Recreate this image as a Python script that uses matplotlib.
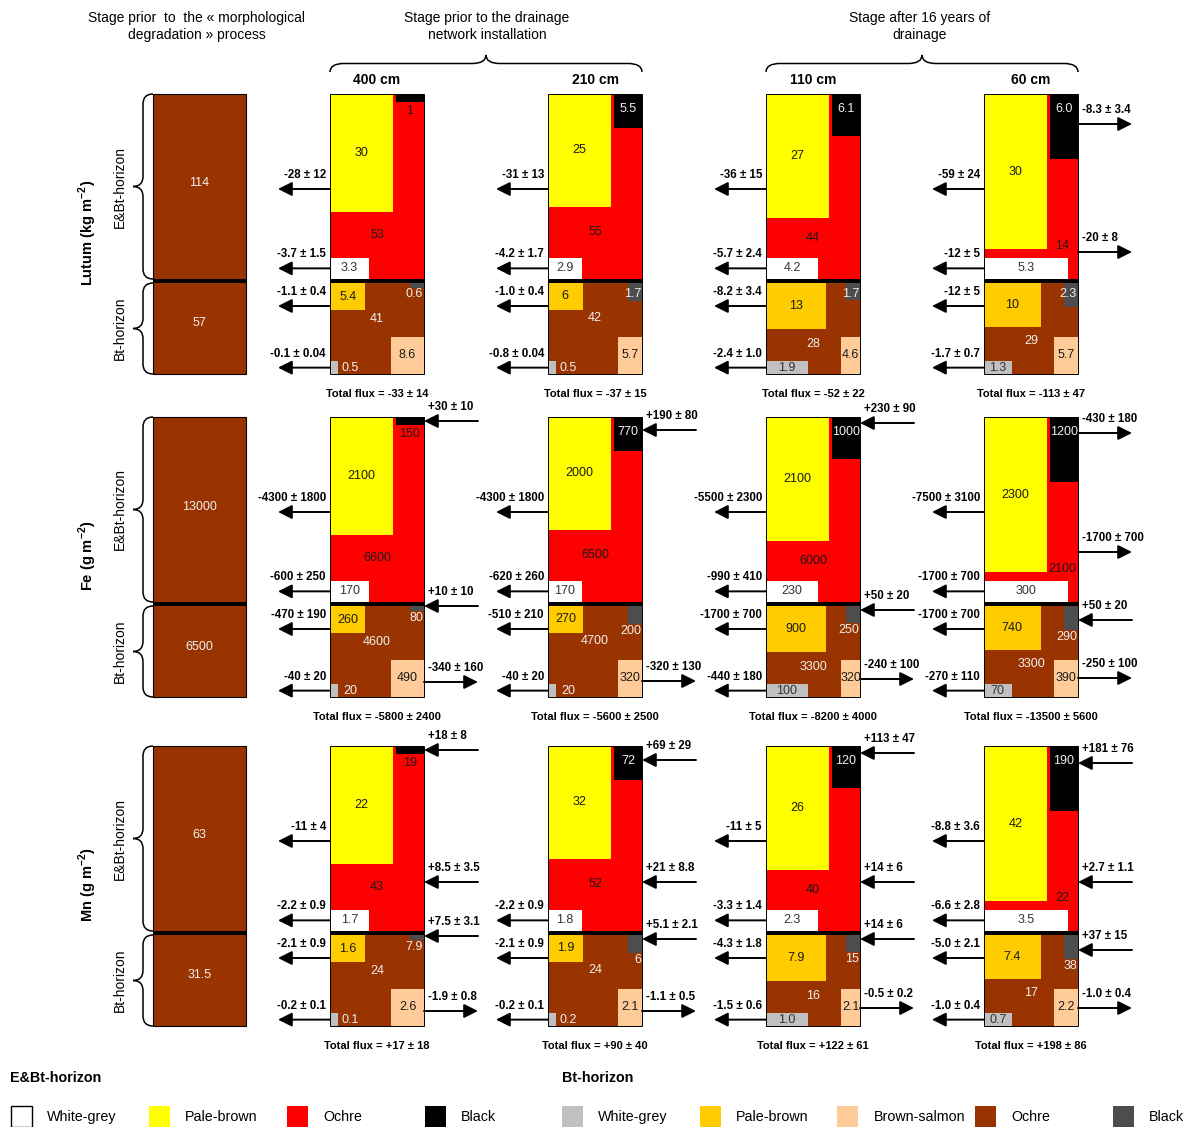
import matplotlib.pyplot as plt
from matplotlib.patches import Rectangle, PathPatch
from matplotlib.path import Path

plt.rcParams['font.family'] = ['Liberation Sans', 'DejaVu Sans']
plt.rcParams['mathtext.fontset'] = 'custom'
plt.rcParams['mathtext.rm'] = 'Liberation Sans'
plt.rcParams['mathtext.bf'] = 'Liberation Sans:bold'

# profils (distance au drain)
profiles = ['400 cm', '210 cm', '110 cm', '60 cm']
row_titles = [r'Lutum (kg m$^{\mathbf{-2}}$)', r'Fe (g m$^{\mathbf{-2}}$)', r'Mn (g m$^{\mathbf{-2}}$)']

# stock avant degradation : E&Bt, Bt
initial_E = ['114', '13000', '63']
initial_Bt = ['57', '6500', '31.5']

# E&Bt : white-grey, pale-brown, ochre, black
lutum_E = [['3.3', '30', '53', '1'], ['2.9', '25', '55', '5.5'],
           ['4.2', '27', '44', '6.1'], ['5.3', '30', '14', '6.0']]
fe_E = [['170', '2100', '6600', '150'], ['170', '2000', '6500', '770'],
        ['230', '2100', '6000', '1000'], ['300', '2300', '2100', '1200']]
mn_E = [['1.7', '22', '43', '19'], ['1.8', '32', '52', '72'],
        ['2.3', '26', '40', '120'], ['3.5', '42', '22', '190']]

# Bt : white-grey, pale-brown, brown-salmon, ochre, black
lutum_Bt = [['0.5', '5.4', '8.6', '41', '0.6'], ['0.5', '6', '5.7', '42', '1.7'],
            ['1.9', '13', '4.6', '28', '1.7'], ['1.3', '10', '5.7', '29', '2.3']]
fe_Bt = [['20', '260', '490', '4600', '80'], ['20', '270', '320', '4700', '200'],
         ['100', '900', '320', '3300', '250'], ['70', '740', '390', '3300', '290']]
mn_Bt = [['0.1', '1.6', '2.6', '24', '7.9'], ['0.2', '1.9', '2.1', '24', '6'],
         ['1.0', '7.9', '2.1', '16', '15'], ['0.7', '7.4', '2.2', '17', '38']]

# flux cote gauche : pale-brown E&Bt, white-grey E&Bt, pale-brown Bt, white-grey Bt
lutum_left = [['-28 ± 12', '-3.7 ± 1.5', '-1.1 ± 0.4', '-0.1 ± 0.04'],
              ['-31 ± 13', '-4.2 ± 1.7', '-1.0 ± 0.4', '-0.8 ± 0.04'],
              ['-36 ± 15', '-5.7 ± 2.4', '-8.2 ± 3.4', '-2.4 ± 1.0'],
              ['-59 ± 24', '-12 ± 5', '-12 ± 5', '-1.7 ± 0.7']]
fe_left = [['-4300 ± 1800', '-600 ± 250', '-470 ± 190', '-40 ± 20'],
           ['-4300 ± 1800', '-620 ± 260', '-510 ± 210', '-40 ± 20'],
           ['-5500 ± 2300', '-990 ± 410', '-1700 ± 700', '-440 ± 180'],
           ['-7500 ± 3100', '-1700 ± 700', '-1700 ± 700', '-270 ± 110']]
mn_left = [['-11 ± 4', '-2.2 ± 0.9', '-2.1 ± 0.9', '-0.2 ± 0.1'],
           [None, '-2.2 ± 0.9', '-2.1 ± 0.9', '-0.2 ± 0.1'],
           ['-11 ± 5', '-3.3 ± 1.4', '-4.3 ± 1.8', '-1.5 ± 0.6'],
           ['-8.8 ± 3.6', '-6.6 ± 2.8', '-5.0 ± 2.1', '-1.0 ± 0.4']]

# flux cote droit (+ = entree, - = sortie)
lutum_right = [[], [], [], ['-8.3 ± 3.4', '-20 ± 8']]
fe_right = [['+30 ± 10', '+10 ± 10', '-340 ± 160'],
            ['+190 ± 80', '-320 ± 130'],
            ['+230 ± 90', '+50 ± 20', '-240 ± 100'],
            ['-430 ± 180', '-1700 ± 700', '+50 ± 20', '-250 ± 100']]
mn_right = [['+18 ± 8', '+8.5 ± 3.5', '+7.5 ± 3.1', '-1.9 ± 0.8'],
            ['+69 ± 29', '+21 ± 8.8', '+5.1 ± 2.1', '-1.1 ± 0.5'],
            ['+113 ± 47', '+14 ± 6', '+14 ± 6', '-0.5 ± 0.2'],
            ['+181 ± 76', '+2.7 ± 1.1', '+37 ± 15', '-1.0 ± 0.4']]

lutum_total = ['-33 ± 14', '-37 ± 15', '-52 ± 22', '-113 ± 47']
fe_total = ['-5800 ± 2400', '-5600 ± 2500', '-8200 ± 4000', '-13500 ± 5600']
mn_total = ['+17 ± 18', '+90 ± 40', '+122 ± 61', '+198 ± 86']

# part de surface de chaque couleur dans l'horizon (%)
surf_white = [4.8, 4.1, 6.4, 10.3]
surf_paleb = [42.7, 40.9, 44.9, 56.2]
surf_black = [1.3, 5.5, 6.8, 10.6]
surf_bt_white = [1.2, 1.2, 6.2, 4.1]
surf_bt_paleb = [11.2, 10.8, 31.9, 28.8]
surf_bt_salmon = [14.3, 10.4, 8.2, 10.4]
surf_bt_black = [0.8, 2.9, 2.8, 3.9]

E_vals = [lutum_E, fe_E, mn_E]
Bt_vals = [lutum_Bt, fe_Bt, mn_Bt]
left_vals = [lutum_left, fe_left, mn_left]
right_vals = [lutum_right, fe_right, mn_right]
totals = [lutum_total, fe_total, mn_total]

# mise en page (pixels)
X_PROF = [330, 548, 766, 984]
W = 94
X0, W0 = 153, 93
Y_ROW = [94, 417, 746]
HE, SEP, HB = 185, 4, 91
right_y = [[[], [], [], [30, 158]],
           [[4, 189, 265], [13, 264], [6, 193, 262], [16, 135, 203, 261]],
           [[4, 136, 190, 265], [14, 136, 193, 265], [7, 136, 193, 262], [17, 136, 204, 262]]]
dark_label_below = [False, True, True]

WHITE, YELLOW, RED, BLACK = '#FFFFFF', '#FFFF00', '#FF0000', '#000000'
LGREY, GOLD, SALMON, BROWN, DGREY = '#C0C0C0', '#FFCC00', '#FFCC99', '#993300', '#4D4D4D'
DARK, LIGHT = '#1a1a1a', '#f0f0f0'
NUM = 9
FLX = 8.3

fig = plt.figure(figsize=(11.87, 11.27), dpi=100)
ax = fig.add_axes([0, 0, 1, 1])
ax.set_xlim(0, 1187)
ax.set_ylim(1127, 0)
ax.axis('off')


def rect(x, y, w, h, c, **kw):
    ax.add_patch(Rectangle((x, y), w, h, fc=c, ec='none', **kw))


def arrow(x_tail, x_head, y):
    ax.annotate('', xy=(x_head, y), xytext=(x_tail, y),
                arrowprops=dict(arrowstyle='-|>,head_length=0.7,head_width=0.35',
                                lw=1.4, color='k', shrinkA=0, shrinkB=0,
                                mutation_scale=12))


def num(x, y, s, c=DARK, **kw):
    ax.text(x, y, s, ha=kw.pop('ha', 'center'), va='center', fontsize=NUM, color=c, **kw)


def vbrace(x_end, y0, y1, depth=20, r=10):
    xm, xt, ym = x_end - depth / 2, x_end - depth, (y0 + y1) / 2
    v = [(x_end, y0), (xm, y0), (xm, y0 + r), (xm, ym - r), (xm, ym), (xt, ym),
         (xm, ym), (xm, ym + r), (xm, y1 - r), (xm, y1), (x_end, y1)]
    c = [Path.MOVETO, Path.CURVE3, Path.CURVE3, Path.LINETO, Path.CURVE3, Path.CURVE3,
         Path.CURVE3, Path.CURVE3, Path.LINETO, Path.CURVE3, Path.CURVE3]
    ax.add_patch(PathPatch(Path(v, c), fc='none', ec='k', lw=1.1))


def hbrace(x0, x1, y_end, depth=17, r=14):
    ym, yt, xm = y_end - depth / 2, y_end - depth, (x0 + x1) / 2
    v = [(x0, y_end), (x0, ym), (x0 + r, ym), (xm - r, ym), (xm, ym), (xm, yt),
         (xm, ym), (xm + r, ym), (x1 - r, ym), (x1, ym), (x1, y_end)]
    c = [Path.MOVETO, Path.CURVE3, Path.CURVE3, Path.LINETO, Path.CURVE3, Path.CURVE3,
         Path.CURVE3, Path.CURVE3, Path.LINETO, Path.CURVE3, Path.CURVE3]
    ax.add_patch(PathPatch(Path(v, c), fc='none', ec='k', lw=1.1))


# en-tetes
ax.text(197, 18, 'Stage prior  to  the « morphological', ha='center', va='center', fontsize=10)
ax.text(197, 35, 'degradation » process', ha='center', va='center', fontsize=10)
ax.text(487, 18, 'Stage prior to the drainage', ha='center', va='center', fontsize=10)
ax.text(487, 35, 'network installation', ha='center', va='center', fontsize=10)
ax.text(920, 18, 'Stage after 16 years of', ha='center', va='center', fontsize=10)
ax.text(920, 35, 'drainage', ha='center', va='center', fontsize=10)
hbrace(X_PROF[0], X_PROF[1] + W, 72)
hbrace(X_PROF[2], X_PROF[3] + W, 72)
for j, p in enumerate(profiles):
    ax.text(X_PROF[j] + W / 2, 80, p, ha='center', va='center', fontsize=10, fontweight='bold')

aE, aB = W * HE, W * HB
for i in range(3):
    top = Y_ROW[i]
    bt = top + HE + SEP

    # colonne initiale
    rect(X0, top, W0, HE, BROWN)
    rect(X0, top + HE, W0, SEP, BLACK)
    rect(X0, bt, W0, HB, BROWN)
    ax.add_patch(Rectangle((X0, top), W0, HE + SEP + HB, fill=False, ec='k', lw=0.8))
    num(X0 + W0 / 2, top + HE / 2 - 3, initial_E[i], LIGHT)
    num(X0 + W0 / 2, bt + HB / 2 - 5, initial_Bt[i], LIGHT)
    vbrace(X0, top, top + HE)
    vbrace(X0, bt, bt + HB)
    ax.text(120, top + HE / 2, 'E&Bt-horizon', rotation=90, ha='center', va='center', fontsize=10)
    ax.text(120, bt + HB / 2, 'Bt-horizon', rotation=90, ha='center', va='center', fontsize=10)
    ax.text(88, top + 139, row_titles[i], rotation=90, ha='center', va='center',
            fontsize=10.5, fontweight='bold')

    for j in range(4):
        x = X_PROF[j]
        xr = x + W
        ev = E_vals[i][j]
        bv = Bt_vals[i][j]

        # horizon E&Bt
        rect(x, top, W, HE, RED)
        yw = 0.67 * W
        yh = surf_paleb[j] / 100 * aE / yw
        rect(x, top, yw, yh, YELLOW)
        bw = 0.30 * W
        bh = surf_black[j] / 100 * aE / bw
        rect(xr - bw, top, bw, bh, BLACK)
        wh = 0.115 * HE
        ww = surf_white[j] / 100 * aE / wh
        rect(x, top + HE - wh, ww, wh, WHITE)
        rect(x, top + HE, W, SEP, BLACK)

        # horizon Bt
        rect(x, bt, W, HB, BROWN)
        gh = (surf_bt_paleb[j] / 100 * aB / 1.3) ** 0.5
        gw = 1.3 * gh
        rect(x, bt, gw, gh, GOLD)
        dw = 0.15 * W
        dh = surf_bt_black[j] / 100 * aB / dw
        rect(xr - dw, bt, dw, dh, DGREY)
        sh = 0.41 * HB
        sw = surf_bt_salmon[j] / 100 * aB / sh
        rect(xr - sw, bt + HB - sh, sw, sh, SALMON)
        lh = 0.14 * HB
        lw_ = surf_bt_white[j] / 100 * aB / lh
        rect(x, bt + HB - lh, lw_, lh, LGREY)
        ax.add_patch(Rectangle((x, top), W, HE + SEP + HB, fill=False, ec='k', lw=0.7))

        # valeurs E&Bt
        num(x + yw / 2, top + yh / 2, ev[1])
        if bh > 20:
            num(xr - bw / 2, top + 15, ev[3], LIGHT)
        else:
            num(xr - bw / 2, top + bh + 9, ev[3], DARK)
        white_top = top + HE - wh
        gap = white_top - (top + yh)
        if gap > 30:
            num(x + W / 2, top + yh + gap / 2, ev[2])
        else:
            num(x + (yw + W) / 2, white_top - 12, ev[2])
        num(x + ww / 2, top + HE - wh / 2, ev[0], '#333333')

        # valeurs Bt
        num(x + gw / 2, bt + gh / 2, bv[1])
        dy = bt + dh + 7 if dark_label_below[i] else bt + 11
        num(xr - 1, dy, bv[4], LIGHT, ha='right')
        num(x + W / 2, bt + gh + 0.33 * gh, bv[3], LIGHT)
        num(xr - sw / 2, bt + HB - sh / 2, bv[2])
        if lw_ > 20:
            num(x + lw_ / 2, bt + HB - lh / 2, bv[0], '#333333')
        else:
            num(x + 20, bt + HB - lh / 2, bv[0], LIGHT)

        # flux gauche
        ly = [top + 95, top + HE - wh / 2, bt + 23, bt + HB - lh / 2]
        for lab, y in zip(left_vals[i][j], ly):
            if lab is None:
                continue
            arrow(x, x - 52, y)
            ax.text(x - 4, y - 14, lab, ha='right', va='center', fontsize=FLX, fontweight='bold')

        # flux droit
        for lab, off in zip(right_vals[i][j], right_y[i][j]):
            y = top + off
            if lab.startswith('+'):
                arrow(xr + 54, xr, y)
            else:
                arrow(xr, xr + 54, y)
            ax.text(xr + 4, y - 14, lab, ha='left', va='center', fontsize=FLX, fontweight='bold')

        ax.text(x + W / 2, bt + HB + 20, 'Total flux = ' + totals[i][j], ha='center', va='center',
                fontsize=8, fontweight='bold')

# legende
leg_E = [('White-grey', WHITE), ('Pale-brown', YELLOW), ('Ochre', RED), ('Black', BLACK)]
leg_Bt = [('White-grey', LGREY), ('Pale-brown', GOLD), ('Brown-salmon', SALMON), ('Ochre', BROWN), ('Black', DGREY)]
ax.text(10, 1078, 'E&Bt-horizon', ha='left', va='center', fontsize=10.3, fontweight='bold')
ax.text(562, 1078, 'Bt-horizon', ha='left', va='center', fontsize=10.3, fontweight='bold')
for k, (lab, c) in enumerate(leg_E):
    lx = 11 + 138 * k
    ax.add_patch(Rectangle((lx, 1106), 21, 21, fc=c, ec='k' if c == WHITE else 'none', lw=1))
    ax.text(lx + 36, 1117, lab, ha='left', va='center', fontsize=10.3)
for k, (lab, c) in enumerate(leg_Bt):
    lx = 562 + 137.7 * k
    ax.add_patch(Rectangle((lx, 1106), 21, 21, fc=c, ec='none'))
    ax.text(lx + 36, 1117, lab, ha='left', va='center', fontsize=10.3)

fig.savefig('out.png', dpi=100)
